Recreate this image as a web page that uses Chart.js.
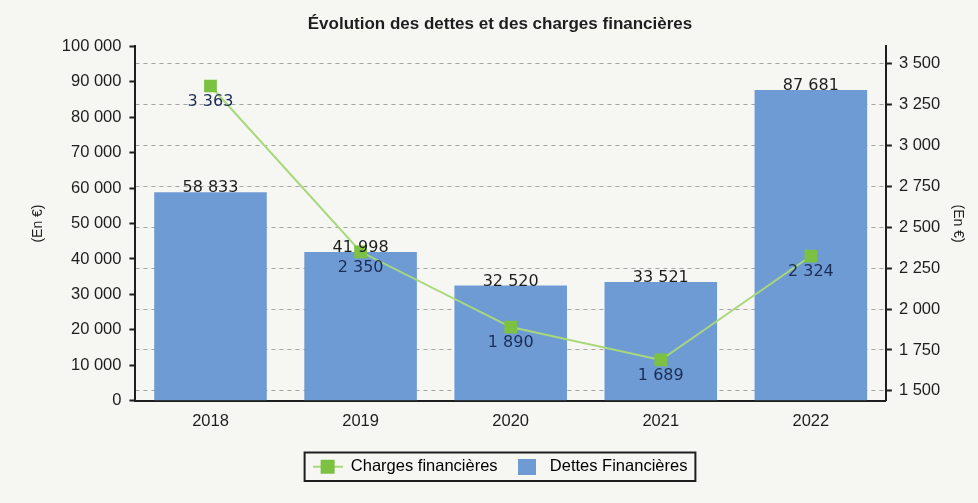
<!DOCTYPE html>
<html>
<head>
<meta charset="utf-8">
<script src="https://cdn.jsdelivr.net/npm/chart.js@4/dist/chart.umd.min.js"></script>
<style>
    html, body { margin: 0; padding: 0; background: #f6f7f3; }
    #wrap { width: 978px; height: 503px; }
</style>
</head>
<body>
<div id="wrap"><canvas id="dettesCanvas" width="978" height="503"></canvas></div>
<script>
var years = ['2018', '2019', '2020', '2021', '2022'];
var dettes = [58833, 41998, 32520, 33521, 87681];
var charges = [3363, 2350, 1890, 1689, 2324];
var titre = 'Évolution des dettes et des charges financières';
var axeTitre = '(En €)';

var fmt = function(v) {
    return String(v).replace(/\B(?=(\d{3})+(?!\d))/g, ' ');
};

var FONT = "'Liberation Sans', Arial, sans-serif";
var BAR_COL = '#6f9bd4';
var LINE_COL = '#a8d87a';
var POINT_COL = '#7cc142';
var INK = '#1e1e1e';

// small canvases for the legend symbols
var mkLineIcon = function() {
    var c = document.createElement('canvas');
    c.width = 30; c.height = 16;
    var g = c.getContext('2d');
    g.strokeStyle = LINE_COL;
    g.lineWidth = 2;
    g.beginPath(); g.moveTo(0, 8); g.lineTo(30, 8); g.stroke();
    g.fillStyle = POINT_COL;
    g.fillRect(8, 1, 14, 14);
    return c;
};
var mkBarIcon = function() {
    var c = document.createElement('canvas');
    c.width = 18; c.height = 16;
    var g = c.getContext('2d');
    g.fillStyle = BAR_COL;
    g.fillRect(0, 0, 18, 16);
    return c;
};

var bgPlugin = {
    id: 'bg',
    beforeDraw: function(chart) {
        var ctx = chart.ctx;
        ctx.save();
        ctx.fillStyle = '#f6f7f3';
        ctx.fillRect(0, 0, chart.width, chart.height);
        ctx.restore();
    }
};

var labelPlugin = {
    id: 'valLabels',
    afterDatasetsDraw: function(chart) {
        var ctx = chart.ctx;
        ctx.save();
        ctx.font = "16px 'DejaVu Sans', sans-serif";
        ctx.textAlign = 'center';
        ctx.textBaseline = 'middle';
        chart.data.datasets.forEach(function(ds, i) {
            var meta = chart.getDatasetMeta(i);
            meta.data.forEach(function(el, j) {
                if (ds.type === 'bar') {
                    ctx.fillStyle = INK;
                    ctx.fillText(fmt(ds.data[j]), el.x, el.y - 4);
                } else {
                    ctx.fillStyle = '#1b2d55';
                    ctx.fillText(fmt(ds.data[j]), el.x, el.y + 16);
                }
            });
        });
        ctx.restore();
    }
};

var legendBox = {
    id: 'legendBox',
    afterDraw: function(chart) {
        var boxes = chart.legend.legendHitBoxes;
        if (!boxes || !boxes.length) return;
        var first = boxes[0], last = boxes[boxes.length - 1];
        var x0 = first.left - 8, x1 = last.left + last.width + 8;
        var y0 = first.top - 6, y1 = first.top + first.height + 6;
        var ctx = chart.ctx;
        ctx.save();
        ctx.strokeStyle = INK;
        ctx.lineWidth = 2;
        ctx.strokeRect(x0, y0, x1 - x0, y1 - y0);
        ctx.restore();
    }
};

var ctx = document.getElementById('dettesCanvas');
var lineIcon = mkLineIcon();
var barIcon = mkBarIcon();

var myChart = new Chart(ctx, {
    data: {
        labels: years,
        datasets: [
            {
                type: 'line',
                label: 'Charges financières',
                data: charges,
                yAxisID: 'y1',
                order: 0,
                borderColor: LINE_COL,
                borderWidth: 2,
                pointStyle: 'rect',
                pointRadius: 9,
                pointHoverRadius: 9,
                pointBackgroundColor: POINT_COL,
                pointBorderWidth: 0,
                tension: 0
            },
            {
                type: 'bar',
                label: 'Dettes Financières',
                data: dettes,
                yAxisID: 'y',
                order: 1,
                backgroundColor: BAR_COL,
                barPercentage: 0.75,
                categoryPercentage: 1.0
            }
        ]
    },
    options: {
        responsive: false,
        animation: false,
        layout: { padding: { left: 28, right: 6, top: 10, bottom: 18 } },
        plugins: {
            tooltip: { enabled: false },
            title: {
                display: true,
                text: titre,
                color: INK,
                font: { family: FONT, size: 17, weight: 'bold' },
                padding: { top: 4, bottom: 12 }
            },
            legend: {
                position: 'bottom',
                labels: {
                    usePointStyle: true,
                    pointStyleWidth: 30,
                    boxHeight: 16,
                    padding: 14,
                    color: INK,
                    font: { family: FONT, size: 16.5 },
                    generateLabels: function() {
                        return [
                            { text: 'Charges financières', pointStyle: lineIcon, fillStyle: POINT_COL, strokeStyle: LINE_COL, lineWidth: 0, datasetIndex: 0, hidden: false },
                            { text: 'Dettes Financières', pointStyle: barIcon, fillStyle: BAR_COL, strokeStyle: BAR_COL, lineWidth: 0, datasetIndex: 1, hidden: false }
                        ];
                    }
                }
            }
        },
        scales: {
            x: {
                grid: { display: false },
                border: { display: true, color: INK, width: 2 },
                ticks: { color: INK, font: { family: FONT, size: 16.5 }, padding: 3 },
                afterFit: function(scale) { scale.height += 10; }
            },
            y: {
                position: 'left',
                min: 0,
                max: 100000,
                ticks: {
                    stepSize: 10000,
                    color: INK,
                    padding: 8,
                    font: { family: FONT, size: 16.5 },
                    callback: function(v) { return fmt(v); }
                },
                grid: { drawOnChartArea: false, drawTicks: true, tickLength: 6, tickColor: INK, tickWidth: 2 },
                border: { display: true, color: INK, width: 2 },
                title: {
                    display: true,
                    text: axeTitre,
                    color: INK,
                    font: { family: FONT, size: 14 },
                    padding: { top: 2, bottom: 7 }
                }
            },
            y1: {
                position: 'right',
                min: 1440,
                max: 3605,
                ticks: {
                    stepSize: 250,
                    includeBounds: false,
                    color: INK,
                    padding: 7,
                    font: { family: FONT, size: 16.5 },
                    callback: function(v) { return fmt(v); }
                },
                grid: {
                    drawOnChartArea: true,
                    color: '#a4a4a4',
                    lineWidth: 1,
                    drawTicks: true,
                    tickLength: 6,
                    tickColor: INK,
                    tickWidth: 2,
                    tickBorderDash: []
                },
                border: { display: true, color: INK, width: 2, dash: [4, 4] },
                title: {
                    display: true,
                    text: axeTitre,
                    color: INK,
                    font: { family: FONT, size: 14 },
                    padding: { top: 6, bottom: 2 }
                }
            }
        }
    },
    plugins: [bgPlugin, labelPlugin, legendBox]
});
</script>
</body>
</html>
